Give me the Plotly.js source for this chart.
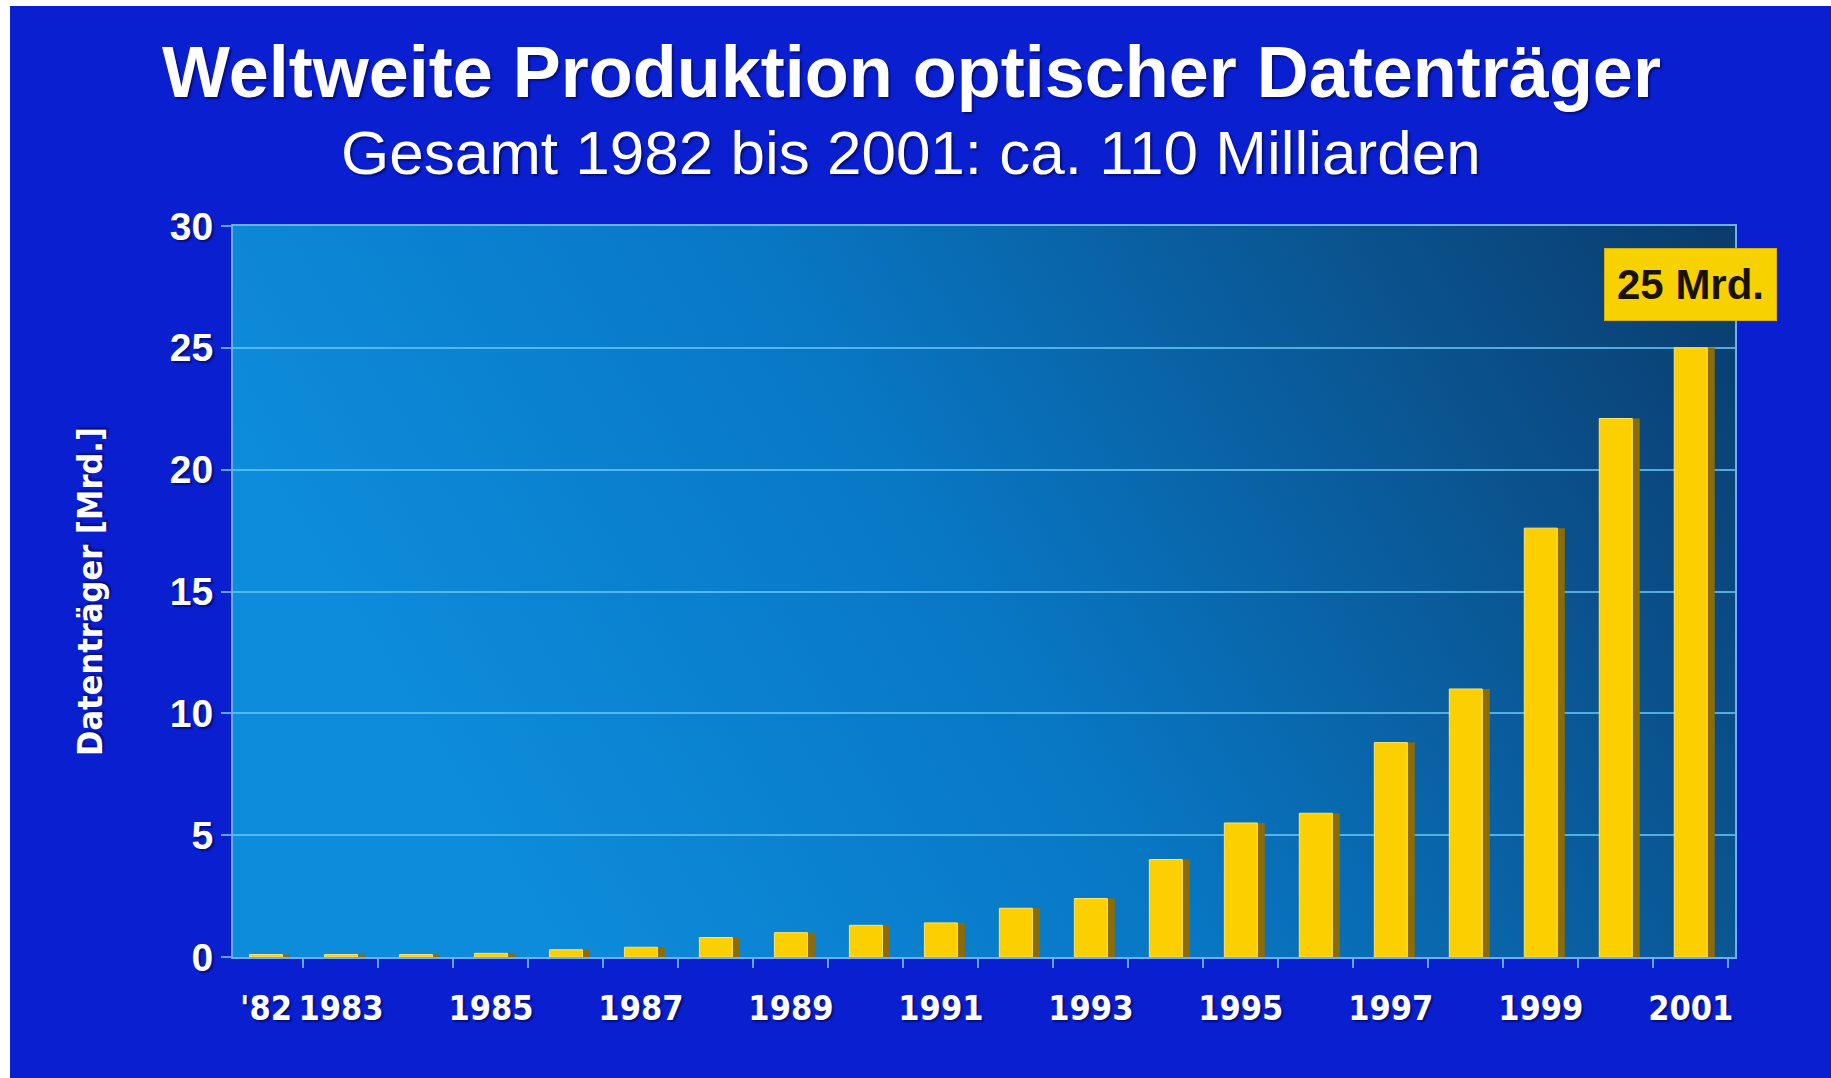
<!DOCTYPE html>
<html>
<head>
<meta charset="utf-8">
<script src="https://cdn.plot.ly/plotly-3.0.1.min.js"></script>
<style>
  html, body { margin: 0; padding: 0; background: #ffffff; width: 1831px; height: 1078px; overflow: hidden; }
  #chart { position: absolute; left: 10px; top: 6px; width: 1821px; height: 1072px; }
</style>
</head>
<body>
<div id="chart"></div>
<script>
// ---- data ----
const years = ["1982","1983","1984","1985","1986","1987","1988","1989","1990","1991",
               "1992","1993","1994","1995","1996","1997","1998","1999","2000","2001"];
const production = [0.1, 0.1, 0.1, 0.15, 0.3, 0.4, 0.8, 1.0, 1.3, 1.4,
                    2.0, 2.4, 4.0, 5.5, 5.9, 8.8, 11.0, 17.6, 22.1, 25.0];
const tickLabels = ["'82","1983","","1985","","1987","","1989","","1991",
                    "","1993","","1995","","1997","","1999","","2001"];
const yTicks = [0, 5, 10, 15, 20, 25, 30];
const titleText = "Weltweite Produktion optischer Datenträger";
const subtitleText = "Gesamt 1982 bis 2001: ca. 110 Milliarden";
const yTitleText = "Datenträger [Mrd.]";
const calloutText = "25 Mrd.";
const calloutYear = "2001";
const calloutValue = 25;

// ---- styles ----
const narrowBold = "'DejaVu Sans Condensed', 'Liberation Sans Narrow', 'Arial Narrow', sans-serif";
const sansFont = "'Liberation Sans', Arial, 'DejaVu Sans', sans-serif";
const txtShadow = "2px 2px 2px rgba(0,0,60,0.55)";

const gradSvg = '<svg xmlns="http://www.w3.org/2000/svg" width="100" height="100" preserveAspectRatio="none">' +
  '<defs><linearGradient id="g" x1="0" y1="0.3" x2="1" y2="0">' +
  '<stop offset="0" stop-color="#0d8cdb"/>' +
  '<stop offset="0.4" stop-color="#0877c4"/>' +
  '<stop offset="0.75" stop-color="#0a5490"/>' +
  '<stop offset="1" stop-color="#0a3b6c"/>' +
  '</linearGradient></defs><rect width="100" height="100" fill="url(#g)"/></svg>';
const gradUri = "data:image/svg+xml;charset=utf-8," + encodeURIComponent(gradSvg);

const sideTrace = {
  type: "bar", x: years, y: production,
  width: 0.44, offset: -0.12,
  marker: { color: "#8a6c0a" },
  hoverinfo: "skip", showlegend: false
};
const frontTrace = {
  type: "bar", x: years, y: production,
  width: 0.44, offset: -0.22,
  marker: { color: "#fbcf00", line: { color: "#ffe46a", width: 1 } },
  hoverinfo: "x+y", showlegend: false
};

const layout = {
  width: 1821, height: 1072,
  paper_bgcolor: "#0a1fd0",
  plot_bgcolor: "rgba(0,0,0,0)",
  margin: { l: 223, r: 96, t: 220, b: 121 },
  barmode: "overlay",
  showlegend: false,
  images: [{
    source: gradUri, xref: "paper", yref: "paper",
    x: 0, y: 1, sizex: 1, sizey: 1, sizing: "stretch",
    xanchor: "left", yanchor: "top", layer: "below"
  }],
  xaxis: {
    type: "category",
    range: [-0.44, 19.59],
    tickmode: "array", tickvals: years, ticktext: tickLabels,
    tickson: "boundaries",
    tickangle: 0, automargin: false,
    ticks: "outside", ticklen: 9, tickwidth: 2, tickcolor: "#5aa6f0",
    ticklabelstandoff: 20,
    tickfont: { family: narrowBold, size: 34, color: "#ffffff", weight: "bold", shadow: txtShadow },
    showgrid: false,
    showline: true, linecolor: "#6aaef5", linewidth: 2, mirror: true,
    zeroline: false, fixedrange: true
  },
  yaxis: {
    range: [0, 30],
    tickmode: "array", tickvals: yTicks,
    ticks: "outside", ticklen: 10, tickwidth: 2, tickcolor: "#5aa6f0",
    tickfont: { family: sansFont, size: 39, color: "#ffffff", weight: "bold", shadow: txtShadow },
    showgrid: true, gridcolor: "rgba(100,196,244,0.8)", gridwidth: 2,
    showline: true, linecolor: "#6aaef5", linewidth: 2, mirror: true,
    zeroline: false, fixedrange: true, automargin: false,
    title: { text: yTitleText, standoff: 57,
             font: { family: narrowBold, size: 34, color: "#ffffff", weight: "bold", shadow: txtShadow } }
  },
  annotations: [
    {
      text: titleText, xref: "paper", yref: "paper", x: 0.5, y: 1, xanchor: "center", yanchor: "middle",
      yshift: 154, xshift: -73, showarrow: false,
      font: { family: sansFont, size: 72, color: "#ffffff", weight: "bold", shadow: txtShadow }
    },
    {
      text: subtitleText, xref: "paper", yref: "paper", x: 0.5, y: 1, xanchor: "center", yanchor: "middle",
      yshift: 74, xshift: -73, showarrow: false,
      font: { family: sansFont, size: 62, color: "#ffffff", shadow: txtShadow }
    },
    {
      text: calloutText, x: years.indexOf(calloutYear), y: calloutValue, xref: "x", yref: "y",
      xanchor: "center", yanchor: "bottom", yshift: 27, showarrow: false,
      bgcolor: "#f8d200", bordercolor: "#d8b000", borderwidth: 1, borderpad: 12,
      font: { family: sansFont, size: 42, color: "#1a1206", weight: "bold" }
    }
  ]
};

Plotly.newPlot("chart", [sideTrace, frontTrace], layout, { displayModeBar: false, staticPlot: true });
</script>
</body>
</html>
